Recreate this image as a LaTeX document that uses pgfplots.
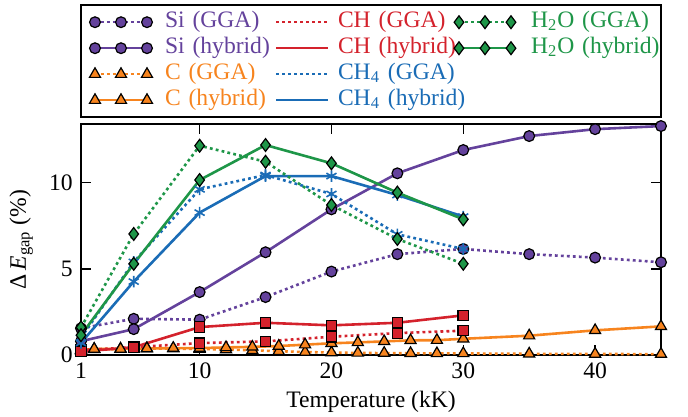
\documentclass[border=0pt]{standalone}
\usepackage{pgfplots}
\pgfplotsset{compat=1.18}
\usepackage{fontspec}
\setmainfont{Liberation Serif}

\definecolor{cSi}{RGB}{100,66,156}
\definecolor{cC}{RGB}{247,132,30}
\definecolor{cCH}{RGB}{212,34,44}
\definecolor{cCH4}{RGB}{26,108,182}
\definecolor{cH2O}{RGB}{30,150,72}

\pgfplotsset{
  dots/.style={dash pattern=on 1.4pt off 1.6pt},
  siS/.style={color=cSi, line width=1.3pt, mark=*, mark size=2.7pt,
    mark options={solid, fill=cSi, draw=black, line width=0.6pt}},
  cS/.style={color=cC, line width=1.3pt, mark=triangle*, mark size=3.2pt,
    mark options={solid, fill=cC, draw=black, line width=0.6pt}},
  chS/.style={color=cCH, line width=1.3pt, mark=square*, mark size=2.6pt,
    mark options={solid, fill=cCH, draw=black, line width=0.6pt}},
  ch4S/.style={color=cCH4, line width=1.3pt, mark=asterisk, mark size=2.9pt,
    mark options={solid, draw=cCH4, line width=0.8pt}},
  h2oS/.style={color=cH2O, line width=1.3pt, mark=diamond*, mark size=3.2pt,
    mark options={solid, fill=cH2O, draw=black, line width=0.6pt}},
}
\newcommand{\lt}[2]{\mbox{\textcolor{#1}{#2}}}

\begin{document}
\fontsize{11.8}{14}\selectfont
\begin{tikzpicture}
\begin{axis}[
    scale only axis,
    width=290pt, height=115.5pt,
    xmin=1, xmax=45, ymin=0, ymax=13.4,
    xtick={1,10,20,30,40},
    ytick={0,5,10},
    tick align=inside,
    major tick length=5pt,
    tick style={black, line width=0.7pt},
    axis line style={line width=0.8pt},
    /pgf/number format/assume math mode=true,
    xlabel={Temperature (kK)},
    ylabel={Δ\,\textit{E}\textsubscript{gap} (\%)},
    xlabel style={yshift=2pt},
    legend columns=3,
    legend cell align=left,
    legend image code/.code={%
      \draw[overlay,mark repeat=1,#1] plot coordinates {(0pt,0pt) (13pt,0pt) (26pt,0pt)};
      \path[draw=none,fill=none] (-4pt,-3pt) rectangle (26pt,3pt);},
    legend style={at={(0.5,1)}, anchor=south, yshift=3pt,
      draw=black, line width=0.8pt, inner xsep=3pt, inner ysep=2.5pt,
      row sep=1pt,
      nodes={inner xsep=0pt, inner ysep=0pt, text height=8.5pt, text depth=3.5pt},
      /tikz/column 1/.style={column sep=9pt},
      /tikz/column 2/.style={column sep=0pt, nodes={text width=51.5pt}},
      /tikz/column 3/.style={column sep=5pt},
      /tikz/column 4/.style={column sep=0.5pt, nodes={text width=56pt}},
      /tikz/column 5/.style={column sep=10pt},
      /tikz/column 6/.style={nodes={text width=62pt}}},
    ]

% Si (GGA)
\addplot[siS, dots, forget plot] coordinates {
  (1,1.55) (5,2.1) (10,2.05) (15,3.36) (20,4.84) (25,5.85) (30,6.15) (35,5.85) (40,5.65) (45,5.38)};
% Si (hybrid)
\addplot[siS, forget plot] coordinates {
  (1,0.8) (5,1.5) (10,3.65) (15,5.96) (20,8.45) (25,10.54) (30,11.89) (35,12.7) (40,13.1) (45,13.28)};
% C (GGA)
\addplot[cS, dots, forget plot] coordinates {
  (1,0.3) (2,0.33) (4,0.35) (6,0.38) (8,0.37) (10,0.35) (12,0.32) (14,0.27) (16,0.22) (18,0.17)
  (20,0.14) (22,0.12) (24,0.11) (26,0.1) (28,0.09) (30,0.09) (35,0.07) (40,0.06) (45,0.05)};
% C (hybrid)
\addplot[cS, forget plot] coordinates {
  (1,0.25) (2,0.35) (4,0.35) (6,0.38) (8,0.4) (10,0.4) (12,0.44) (14,0.47) (16,0.52) (18,0.6)
  (20,0.68) (22,0.73) (24,0.79) (26,0.85) (28,0.86) (30,0.94) (35,1.12) (40,1.43) (45,1.66)};
% CH (GGA)
\addplot[chS, dots, forget plot] coordinates {
  (1,0.28) (5,0.45) (10,0.69) (15,0.79) (20,1.06) (25,1.27) (30,1.41)};
% CH (hybrid)
\addplot[chS, forget plot] coordinates {
  (1,0.2) (5,0.45) (10,1.62) (15,1.87) (20,1.72) (25,1.87) (30,2.3)};
% CH4 (GGA)
\addplot[ch4S, dots, forget plot] coordinates {
  (1,1.0) (5,5.4) (10,9.61) (15,10.44) (20,9.34) (25,7.0) (30,6.15)};
% CH4 (hybrid)
\addplot[ch4S, forget plot] coordinates {
  (1,0.7) (5,4.26) (10,8.26) (15,10.38) (20,10.38) (25,9.28) (30,8.03)};
% H2O (GGA)
\addplot[h2oS, dots, forget plot] coordinates {
  (1,1.6) (5,7.02) (10,12.14) (15,11.21) (20,8.7) (25,6.73) (30,5.29)};
% H2O (hybrid)
\addplot[h2oS, forget plot] coordinates {
  (1,1.15) (5,5.29) (10,10.15) (15,12.18) (20,11.12) (25,9.42) (30,7.87)};

% legend, filled row by row
\addlegendimage{siS, dots}
\addlegendentry{\lt{cSi}{Si (GGA)}}
\addlegendimage{color=cCH, line width=1.3pt, dots}
\addlegendentry{\lt{cCH}{CH (GGA)}}
\addlegendimage{h2oS, dots}
\addlegendentry{\lt{cH2O}{H\textsubscript{2}O (GGA)}}
\addlegendimage{siS}
\addlegendentry{\lt{cSi}{Si (hybrid)}}
\addlegendimage{color=cCH, line width=1.3pt}
\addlegendentry{\lt{cCH}{CH (hybrid)}}
\addlegendimage{h2oS}
\addlegendentry{\lt{cH2O}{H\textsubscript{2}O (hybrid)}}
\addlegendimage{cS, dots}
\addlegendentry{\lt{cC}{C (GGA)}}
\addlegendimage{color=cCH4, line width=1.3pt, dots}
\addlegendentry{\lt{cCH4}{CH\textsubscript{4} (GGA)}}
\addlegendimage{empty legend}
\addlegendentry{}
\addlegendimage{cS}
\addlegendentry{\lt{cC}{C (hybrid)}}
\addlegendimage{color=cCH4, line width=1.3pt}
\addlegendentry{\lt{cCH4}{CH\textsubscript{4} (hybrid)}}
\end{axis}
\pgfresetboundingbox
\useasboundingbox (-40.5pt,-30.5pt) rectangle (303.5pt,177.5pt);
\end{tikzpicture}
\end{document}
